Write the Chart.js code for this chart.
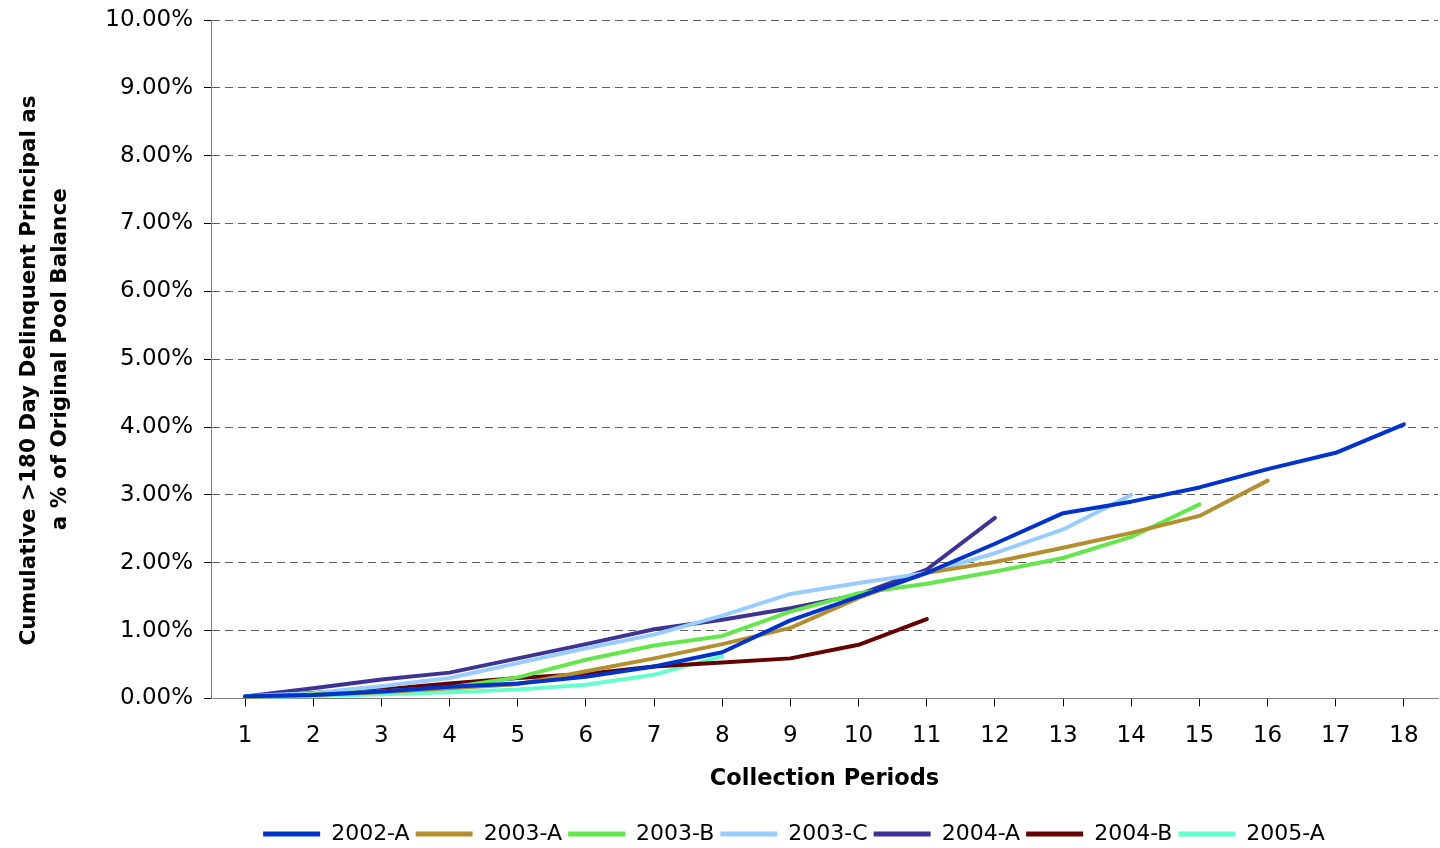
<!DOCTYPE html>
<html>
<head>
<meta charset="utf-8">
<script src="https://cdn.jsdelivr.net/npm/chart.js@4.4.1/dist/chart.umd.min.js"></script>
<style>
body { margin: 0; background: #fff; }
#holder { width: 1440px; height: 848px; }
</style>
</head>
<body>
<div id="holder"><canvas id="delinq"></canvas></div>
<script>
// collection periods along the x axis
var periods = ["1","2","3","4","5","6","7","8","9","10","11","12","13","14","15","16","17","18"];

// cumulative >180 day delinquent principal, % of original pool balance
var s2002A = [0.03,0.05,0.10,0.17,0.22,0.32,0.47,0.68,1.15,1.50,1.85,2.28,2.73,2.90,3.11,3.38,3.62,4.04];
var s2003A = [0.02,0.05,0.09,0.15,0.21,0.40,0.59,0.80,1.04,1.48,1.85,2.01,2.22,2.44,2.69,3.21];
var s2003B = [0.02,0.06,0.10,0.16,0.31,0.57,0.78,0.92,1.28,1.55,1.69,1.87,2.07,2.38,2.86];
var s2003C = [0.03,0.08,0.18,0.30,0.52,0.74,0.94,1.22,1.54,1.70,1.85,2.14,2.49,3.00];
var s2004A = [0.03,0.15,0.28,0.38,0.59,0.80,1.02,1.16,1.33,1.53,1.90,2.66];
var s2004B = [0.02,0.08,0.13,0.22,0.30,0.36,0.47,0.53,0.59,0.79,1.17];
var s2005A = [0.01,0.03,0.06,0.09,0.13,0.20,0.35,0.62];

var names = ["2002-A","2003-A","2003-B","2003-C","2004-A","2004-B","2005-A"];
var series = [s2002A, s2003A, s2003B, s2003C, s2004A, s2004B, s2005A];
var cols = ["#0033CC","#B38F30","#66E64D","#99CCFF","#3D3393","#660000","#66FFCC"];

var tickFont = { family: "'DejaVu Sans', sans-serif", size: 23 };

var sets = [];
for (var i = 0; i < series.length; i++)
{
	sets.push({
		label: names[i],
		data: series[i],
		borderColor: cols[i],
		backgroundColor: cols[i],
		borderWidth: 4,
		borderCapStyle: "round",
		borderJoinStyle: "round",
		pointRadius: 0,
		tension: 0
	});
}

// legend sits a bit right of centre in the original
var nudgeLegend = {
	id: "nudgeLegend",
	afterLayout: function(chart) {
		chart.legend.left += 68;
		chart.legend.right += 68;
	}
};

new Chart("delinq", {
	type: "line",
	data: { labels: periods, datasets: sets },
	plugins: [nudgeLegend],
	options: {
		responsive: true,
		maintainAspectRatio: false,
		animation: false,
		layout: { padding: { top: 0, right: 2, left: 14, bottom: -7 } },
		plugins: {
			tooltip: { enabled: false },
			legend: {
				position: "bottom",
				labels: {
					font: { family: "'DejaVu Sans', sans-serif", size: 22 },
					color: "#000",
					boxWidth: 57,
					boxHeight: 5,
					padding: 6,
					generateLabels: function(chart) {
						var items = Chart.defaults.plugins.legend.labels.generateLabels(chart);
						items.forEach(function(it) { it.fillStyle = it.strokeStyle; it.lineWidth = 0; });
						return items;
					}
				}
			}
		},
		scales: {
			x: {
				offset: true,
				border: { color: "#808080", width: 1 },
				grid: { drawOnChartArea: false, color: "#000", tickLength: 8 },
				ticks: { font: tickFont, color: "#000", padding: 16, maxRotation: 0 },
				title: { display: true, text: "Collection Periods",
					font: { family: "'DejaVu Sans', sans-serif", size: 22.5, weight: "bold" }, color: "#000", padding: { top: 0, bottom: 24 } }
			},
			y: {
				min: 0,
				max: 10,
				border: { color: "#808080", width: 1, dash: [8, 5] },
				grid: { color: "#606060", tickBorderDash: [], tickColor: "#000", tickLength: 7 },
				ticks: { stepSize: 1, font: tickFont, color: "#000", padding: 11,
					callback: function(v) { return v.toFixed(2) + "%"; } },
				title: { display: true, text: ["Cumulative >180 Day Delinquent Principal as   ", "a % of Original Pool Balance"],
					font: { family: "'DejaVu Sans', sans-serif", size: 21.5, weight: "bold", lineHeight: 1.45 }, color: "#000", padding: 0 },
				afterFit: function(scale) { scale.width = 197; scale.paddingTop = 20; }
			}
		}
	}
});
</script>
</body>
</html>
